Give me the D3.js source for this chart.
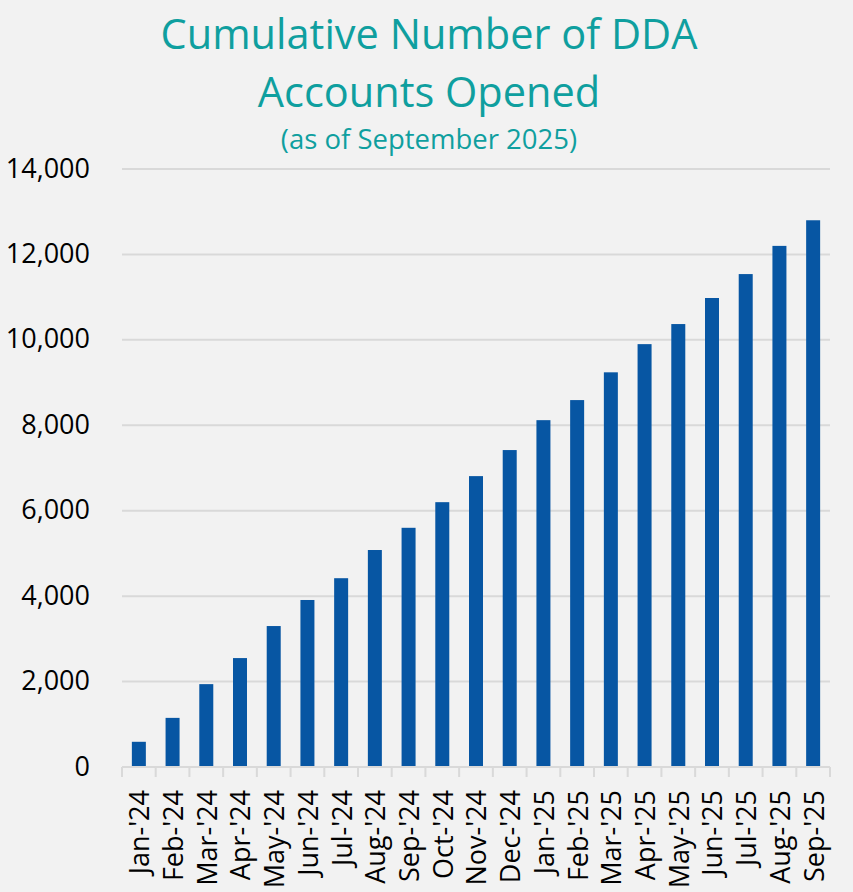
<!DOCTYPE html>
<html>
<head>
<meta charset="utf-8">
<script src="https://cdn.jsdelivr.net/npm/d3@7.9.0/dist/d3.min.js"></script>
<style>
  html, body { margin: 0; padding: 0; background: #f2f2f2; }
  svg { display: block; }
</style>
</head>
<body>
<svg id="chart" width="853" height="892"></svg>
<script>
// data
const months = ["Jan-'24", "Feb-'24", "Mar-'24", "Apr-'24", "May-'24", "Jun-'24", "Jul-'24",
  "Aug-'24", "Sep-'24", "Oct-'24", "Nov-'24", "Dec-'24", "Jan-'25", "Feb-'25", "Mar-'25",
  "Apr-'25", "May-'25", "Jun-'25", "Jul-'25", "Aug-'25", "Sep-'25"];
const accounts = [590, 1150, 1940, 2550, 3300, 3910, 4420, 5080, 5600, 6200, 6810,
  7420, 8120, 8590, 9240, 9900, 10370, 10980, 11540, 12200, 12800];
const yTicks = [0, 2000, 4000, 6000, 8000, 10000, 12000, 14000];
const titleLines = ["Cumulative Number of DDA", "Accounts Opened"];
const subtitle = "(as of September 2025)";

const W = 853, H = 892;
const margin = { top: 169, right: 23, bottom: 125, left: 122 };
const innerW = W - margin.left - margin.right;
const innerH = H - margin.top - margin.bottom;

const svg = d3.select('#chart');
svg.append('rect').attr('width', W).attr('height', H).attr('fill', '#f2f2f2');

// titles
const teal = '#0f9f9f';
svg.selectAll('text.title')
  .data(titleLines)
  .enter().append('text')
    .attr('class', 'title')
    .attr('x', 429)
    .attr('y', (d, i) => 49 + i * 58)
    .attr('text-anchor', 'middle')
    .attr('fill', teal)
    .style('font-family', '"Open Sans", sans-serif')
    .style('font-size', '41.5px')
    .text(d => d);

svg.append('text')
  .attr('x', 429)
  .attr('y', 149)
  .attr('text-anchor', 'middle')
  .attr('fill', teal)
  .style('font-family', '"Open Sans", sans-serif')
  .style('font-size', '27.5px')
  .text(subtitle);

const g = svg.append('g').attr('transform', `translate(${margin.left},${margin.top})`);

const x = d3.scaleBand()
  .domain(months)
  .range([0, innerW])
  .paddingInner(0.585)
  .paddingOuter(0.2925);

const y = d3.scaleLinear().domain([0, 14000]).range([innerH, 0]);

// gridlines
g.selectAll('line.grid')
  .data(yTicks.filter(d => d > 0))
  .enter().append('line')
    .attr('class', 'grid')
    .attr('x1', 0).attr('x2', innerW)
    .attr('y1', d => y(d)).attr('y2', d => y(d))
    .attr('stroke', '#d9d9d9')
    .attr('stroke-width', 2);

// y axis labels (no line)
const yAxis = d3.axisLeft(y)
  .tickValues(yTicks)
  .tickSize(0)
  .tickPadding(32)
  .tickFormat(d3.format(','));
const yG = g.append('g').call(yAxis);
yG.select('.domain').remove();
yG.selectAll('text')
  .attr('dy', '0.3em')
  .style('font-family', '"Open Sans", sans-serif')
  .style('font-size', '27px')
  .attr('fill', '#000');

// bars
g.selectAll('rect.bar')
  .data(accounts)
  .enter().append('rect')
    .attr('class', 'bar')
    .attr('x', (d, i) => x(months[i]))
    .attr('y', d => y(d))
    .attr('width', x.bandwidth())
    .attr('height', d => innerH - y(d))
    .attr('fill', '#0756a3');

// x axis: baseline, tick marks at category boundaries, rotated labels
const xG = g.append('g').attr('transform', `translate(0,${innerH})`);
xG.append('line')
  .attr('x1', 0).attr('x2', innerW)
  .attr('stroke', '#d9d9d9').attr('stroke-width', 2);
xG.selectAll('line.tick')
  .data(d3.range(months.length + 1))
  .enter().append('line')
    .attr('class', 'tick')
    .attr('x1', i => i * innerW / months.length)
    .attr('x2', i => i * innerW / months.length)
    .attr('y1', 0).attr('y2', 10)
    .attr('stroke', '#d9d9d9').attr('stroke-width', 2);

xG.selectAll('text.xl')
  .data(months)
  .enter().append('text')
    .attr('class', 'xl')
    .attr('transform', d => `translate(${x(d) + x.bandwidth() / 2 + 1},23) rotate(-90)`)
    .attr('text-anchor', 'end')
    .attr('dy', '0.35em')
    .style('font-family', '"Open Sans", sans-serif')
    .style('font-size', '27px')
    .attr('fill', '#000')
    .text(d => d);
</script>
</body>
</html>
